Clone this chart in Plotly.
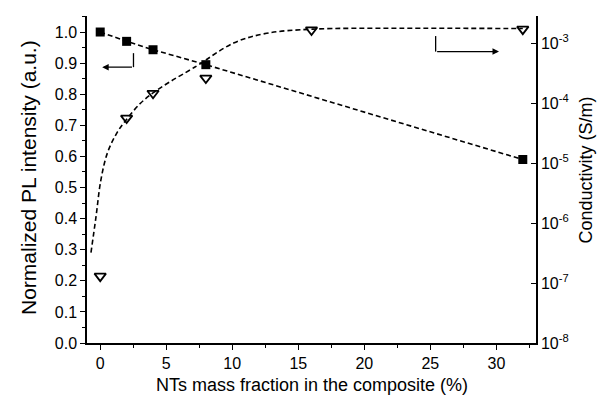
import plotly.graph_objects as go

# ---- data ----
pl_x = [0, 2, 4, 8, 32]
pl_y = [1.0, 0.97, 0.943, 0.895, 0.59]

cond_x = [0, 2, 4, 8, 16, 32]
cond_y = [1.3e-7, 5.6e-5, 1.45e-4, 2.6e-4, 1.65e-3, 1.7e-3]

fit_x = [-0.7, -0.32, 0.05, 0.56, 1.31, 2.07, 3.07, 4.05, 5.34, 6.85, 7.5, 10.1, 12.6, 16.1, 22.7, 32]
fit_y = [3.2e-7, 1.26e-6, 5.2e-6, 1.5e-5, 3.3e-5, 5.6e-5, 1.0e-4, 1.5e-4, 2.3e-4, 3.6e-4,
         4.4e-4, 1.0e-3, 1.45e-3, 1.7e-3, 1.76e-3, 1.74e-3]

x_ticks = [0, 5, 10, 15, 20, 25, 30]
y_ticks = [0.0, 0.1, 0.2, 0.3, 0.4, 0.5, 0.6, 0.7, 0.8, 0.9, 1.0]
y2_ticks = [1e-8, 1e-7, 1e-6, 1e-5, 1e-4, 1e-3]
y2_labels = ["10<sup>-8</sup>", "10<sup>-7</sup>", "10<sup>-6</sup>",
             "10<sup>-5</sup>", "10<sup>-4</sup>", "10<sup>-3</sup>"]

x_title = "NTs mass fraction in the composite (%)"
y_title = "Normalized PL intensity (a.u.)"
y2_title = "Conductivity (S/m)"

FONT = "Liberation Sans, Arial, sans-serif"
dash = "5px,3px"

# page body has an 8px margin: size the figure so it fits the 606x405 window
OFF = 8
W, H = 606 - 2 * OFF, 405 - 2 * OFF
L, R, T, B = 79, 62, 8, 54
pw, ph = W - L - R, H - T - B

def scr_to_paper(sx, sy):
    return (sx - OFF - L) / pw, (H - B - (sy - OFF)) / ph

fig = go.Figure()

fig.add_trace(go.Scatter(
    x=pl_x, y=pl_y, mode="lines+markers",
    line=dict(color="black", width=1.6, dash=dash),
    marker=dict(symbol="square", size=9, color="black"),
    showlegend=False, yaxis="y"))

fig.add_trace(go.Scatter(
    x=fit_x, y=fit_y, mode="lines", line_shape="spline",
    line=dict(color="black", width=1.6, dash=dash),
    showlegend=False, yaxis="y2"))

fig.add_trace(go.Scatter(
    x=cond_x, y=cond_y, mode="markers",
    marker=dict(symbol="triangle-down-open", size=10, color="black",
                line=dict(width=1.8, color="black")),
    showlegend=False, yaxis="y2"))

# arrows
fig.add_shape(type="line", x0=2.52, x1=2.52, y0=0.932, y1=0.887,
              xref="x", yref="y", line=dict(color="black", width=1.3))
fig.add_annotation(x=0.15, y=0.887, ax=2.52, ay=0.887, xref="x", yref="y",
                   axref="x", ayref="y", text="", showarrow=True,
                   arrowhead=2, arrowsize=1, arrowwidth=1.3, arrowcolor="black")
fig.add_shape(type="line", x0=25.4, x1=25.4, y0=0.987, y1=0.937,
              xref="x", yref="y", line=dict(color="black", width=1.3))
fig.add_annotation(x=30.2, y=0.937, ax=25.4, ay=0.937, xref="x", yref="y",
                   axref="x", ayref="y", text="", showarrow=True,
                   arrowhead=2, arrowsize=1, arrowwidth=1.3, arrowcolor="black")

# axis titles as annotations
tx, _ = scr_to_paper(312, 0)
fig.add_annotation(x=tx, y=-(B - 0.5) / ph, xref="paper", yref="paper", text=x_title,
                   showarrow=False, font=dict(size=18), xanchor="center", yanchor="bottom")
tx, ty = scr_to_paper(28, 178)
fig.add_annotation(x=tx, y=ty, xref="paper", yref="paper", text=y_title, textangle=-90,
                   showarrow=False, font=dict(size=21), xanchor="center", yanchor="middle")
_, ty = scr_to_paper(0, 170)
fig.add_annotation(x=(W - L - 0.5) / pw, y=ty, xref="paper", yref="paper", text=y2_title,
                   textangle=-90, showarrow=False, font=dict(size=18),
                   xanchor="right", yanchor="middle")

fig.update_layout(
    width=W, height=H,
    margin=dict(l=L, r=R, t=T, b=B),
    paper_bgcolor="white", plot_bgcolor="white",
    font=dict(family=FONT, size=16, color="black"),
    xaxis=dict(
        range=[-1, 33], tickvals=x_ticks, automargin=False,
        showline=True, linecolor="black", linewidth=1.5,
        ticks="outside", ticklen=5, tickwidth=1.3, tickcolor="black",
        minor=dict(dtick=2.5, tick0=0, ticks="outside", ticklen=3, tickcolor="black"),
        showgrid=False, zeroline=False,
        tickfont=dict(size=16)),
    yaxis=dict(
        range=[0, 1.0515], tickvals=y_ticks, tickformat=".1f", automargin=False,
        showline=True, linecolor="black", linewidth=1.5,
        ticks="outside", ticklen=5, tickwidth=1.3, tickcolor="black",
        minor=dict(dtick=0.05, tick0=0, ticks="outside", ticklen=3, tickcolor="black"),
        showgrid=False, zeroline=False,
        tickfont=dict(size=16)),
    yaxis2=dict(
        type="log", range=[-8, -2.55], overlaying="y", side="right", automargin=False,
        tickvals=y2_ticks, ticktext=y2_labels,
        showline=True, linecolor="black", linewidth=1.5,
        ticks="inside", ticklen=5, tickwidth=1.3, tickcolor="black",
        showgrid=False, zeroline=False,
        tickfont=dict(size=16)),
)

fig.write_html("out.html")
